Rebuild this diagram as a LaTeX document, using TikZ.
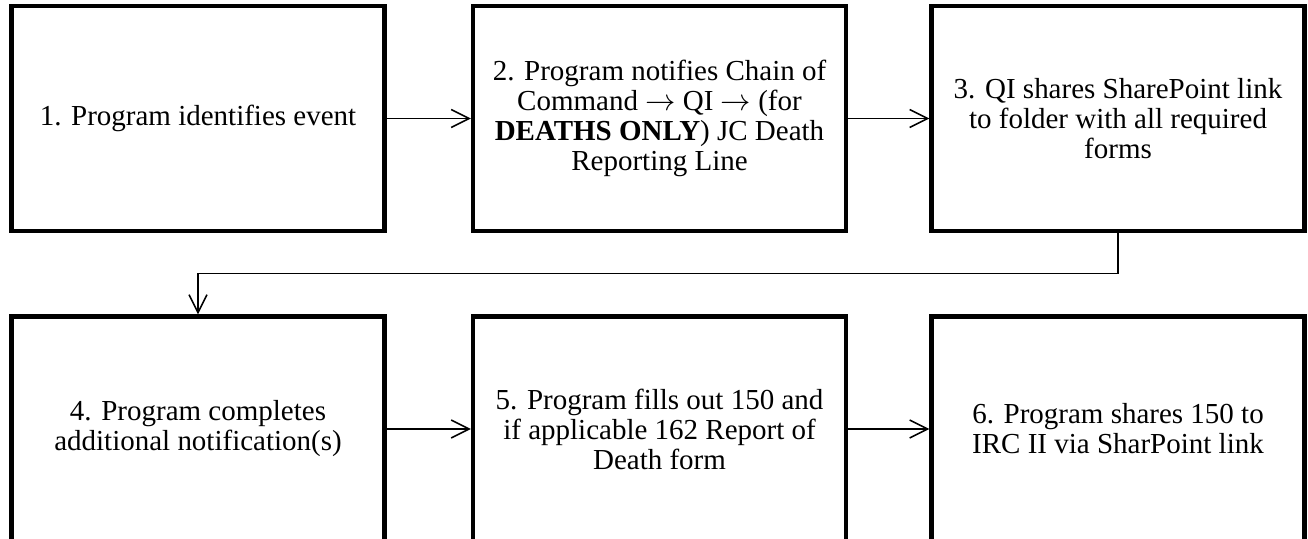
\documentclass[tikz,border=0pt]{standalone}
\usepackage{fontspec}
\setmainfont{Liberation Serif}
\usetikzlibrary{arrows.meta}
\begin{document}
\begin{tikzpicture}[font=\fontsize{16.5}{17.1}\selectfont,
  stage/.style={draw, line width=2.5pt, minimum width=7.46cm,
                minimum height=4.5cm, align=center, fill=white},
  flow/.style={line width=0.85pt,
               -{Straight Barb[length=0.36cm, width=0.36cm, line width=0.85pt]}}
]
  \useasboundingbox (0,0) rectangle (26.16,-10.78);
  \node[stage] (s1) at (3.96, -2.37) {1. Program identifies event};
  \node[stage] (s2) at (13.19,-2.37)
        {2. Program notifies Chain of\\Command \(\rightarrow\) QI \(\rightarrow\) (for\\
         \textbf{DEATHS ONLY}) JC Death\\Reporting Line};
  \node[stage] (s3) at (22.36,-2.37)
        {3. QI shares SharePoint link\\to folder with all required\\forms};
  \node[stage] (s4) at (3.96, -8.58)
        {4. Program completes\\additional notification(s)};
  \node[stage] (s5) at (13.19,-8.58)
        {5. Program fills out 150 and\\if applicable 162 Report of\\Death form};
  \node[stage] (s6) at (22.36,-8.58)
        {6. Program shares 150 to\\IRC II via SharPoint link};
  \draw[flow] (s1) -- (s2);
  \draw[flow] (s2) -- (s3);
  \draw[flow] (s3.south) -- ++(0,-0.81) -| (s4.north);
  \draw[flow] (s4) -- (s5);
  \draw[flow] (s5) -- (s6);
\end{tikzpicture}
\end{document}
